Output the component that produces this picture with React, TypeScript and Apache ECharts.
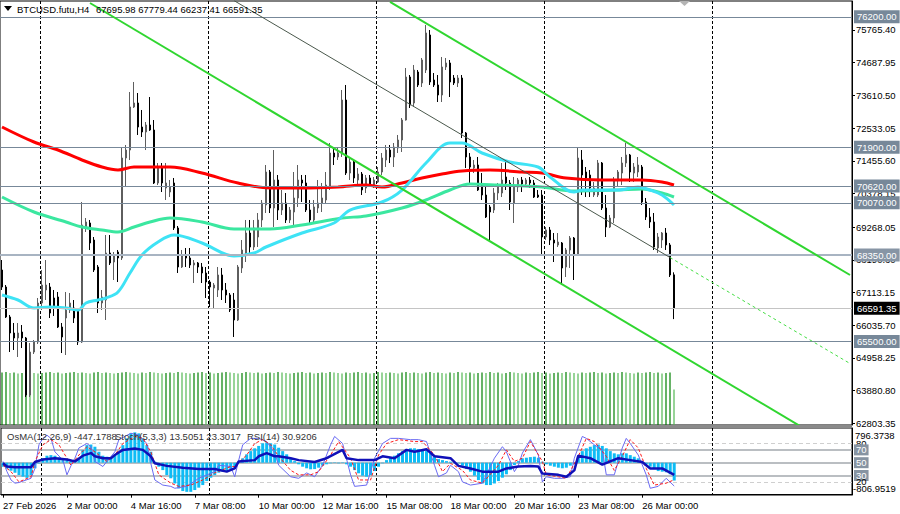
import { useEffect, useRef } from 'react';
import * as echarts from 'echarts';

// ---------- categories (H4 bars, incl. empty right shift) ----------
const SLOT_COUNT = 213;
const START_MS = Date.UTC(2026, 1, 27, 8);
const MONTHS = ['Jan', 'Feb', 'Mar', 'Apr', 'May', 'Jun', 'Jul', 'Aug', 'Sep', 'Oct', 'Nov', 'Dec'];
const categories = Array.from({ length: SLOT_COUNT }, (_, i) => {
  const d = new Date(START_MS + i * 4 * 3600 * 1000);
  return `${d.getUTCDate()} ${MONTHS[d.getUTCMonth()]} ${String(d.getUTCHours()).padStart(2, '0')}:00`;
});
const TICK_INDEX = [0, 16, 32, 48, 64, 80, 96, 112, 128, 144, 160];
const TICK_LABELS = ['27 Feb 2026', '2 Mar 00:00', '4 Mar 16:00', '7 Mar 08:00', '10 Mar 00:00', '12 Mar 16:00', '15 Mar 08:00', '18 Mar 00:00', '20 Mar 16:00', '23 Mar 08:00', '26 Mar 00:00'];
const WEEK_GRID_INDEX = [10, 52, 94, 136, 178];
const PRICE_TICKS = [62803.35, 63880.8, 64958.25, 66035.7, 67113.15, 68190.6, 69268.05, 70378.15, 71455.6, 72533.05, 73610.5, 74687.95, 75765.4];

// ---------- OHLC ----------
const OPEN = [67856,67295,66307,65779,65615,65812,65615,63736,65153,65483,
66768,67197,67295,66933,66966,65977,66274,66537,66603,66537,
65483,69240,69405,68844,67955,66768,66867,68416,68119,68449,
68251,71547,71810,73228,73360,72568,72404,72634,72470,70723,
71250,70558,70426,70723,69240,67955,68350,68251,68021,68087,
67955,67757,67460,67262,67197,67691,67197,67032,66867,66208,
67922,68416,69075,68614,68943,69504,69998,71085,69899,70822,
69833,70064,69504,69767,70229,70822,70723,69833,69504,69899,
70064,70163,70591,71712,71580,71712,73458,71052,71415,70822,
71019,70558,70888,70657,70756,71085,71481,71810,71580,71876,
72140,72799,74216,73360,74381,74019,74447,75601,74118,73953,
73623,74546,74678,74183,74019,74183,72371,71580,71217,71316,
70657,70327,69932,69833,70393,70393,70921,70723,70064,70591,
70822,70690,70822,70723,70327,70327,68943,69174,68844,68680,
68746,67955,68515,68910,68350,71481,71085,70987,70327,70327,
71382,69899,69273,69569,70822,71052,71382,71646,71052,71085,
71250,70097,69602,69438,68581,68844,69075,68680,67695.98];
const CLOSE = [67295,66307,65779,65615,65779,65615,63736,65153,65483,66768,
67361,67361,66438,66603,65977,65648,66537,66768,66274,65483,
69339,69438,68746,67856,66768,66966,68416,68087,68350,68251,
71547,71810,73228,73360,72568,72404,72634,72470,70723,71250,
70723,70723,70591,69240,67955,68350,68251,68021,68087,67955,
67757,67460,67295,67361,67691,67197,67032,66537,66208,67955,
68515,69075,68614,69240,69504,70064,71085,69899,70822,69833,
70064,69504,69833,70229,70822,70723,69833,69504,69932,70064,
70229,70657,71712,71580,71712,73458,71052,71415,70888,71019,
70492,70888,70657,70822,71085,71547,71810,71580,71909,72140,
72799,74216,73294,74447,73953,74777,75667,74052,73953,73623,
74546,74678,74052,74019,74183,72371,71580,71250,71316,70492,
70327,69602,69767,70393,70657,70822,70723,70097,70657,70822,
70690,70822,70723,70261,70261,68943,69174,68844,68746,68778,
67922,68515,68910,68350,71547,70987,70888,70558,70558,71382,
69899,69273,69569,70822,71085,71382,71646,71085,71250,71316,
70097,69602,69438,68614,68943,69075,68680,67691,66591.35];
const LOW = [67197,66274,65153,65219,64988,65285,63670,63670,65087,65417,
66537,66867,66274,66340,65944,65120,65054,66438,66109,65384,
65450,69108,68515,67790,66438,66537,66208,68021,67526,67460,
68185,70591,71481,73195,72305,72239,71810,72440,70690,70657,
70426,70163,70261,69174,67757,67922,67955,67922,67427,67757,
67427,66933,66636,66603,66966,66867,66768,66471,65648,66175,
67757,68119,68416,68515,68614,69273,69734,69734,69273,69504,
69668,69405,69405,69273,69932,70097,69767,69405,69405,69734,
69767,70064,70492,71316,71481,71580,70987,70822,70723,70657,
70327,70393,70591,70558,70723,70987,71250,71382,71250,71712,
71745,72780,73195,73228,73887,73887,74348,73953,73887,73392,
73392,74447,73557,73953,73887,72206,71217,70723,71052,70460,
70163,69569,68778,69734,70163,70261,70492,69833,69405,70426,
70426,70591,70558,70229,70229,68350,68844,68680,68119,68614,
67361,67625,67922,67526,68317,70327,70261,70261,70261,70261,
69833,68943,69240,69405,70591,70657,71250,70756,70756,70921,
69998,69504,69240,68515,68416,68581,68515,67625,66237.41];
const HIGH = [68185,67361,66373,66109,66109,66043,65648,65450,65549,66933,
67856,68185,67427,67197,67131,66109,67131,67098,66867,66603,
70097,69569,69504,68943,68021,67197,69009,69009,68449,68515,
71909,71975,73722,74052,73689,73129,72733,73557,72799,71382,
71382,71382,70822,70888,69306,68515,68581,68581,68185,68119,
68087,67955,67526,67427,67955,67922,67427,67098,67098,68021,
68844,69504,69504,69504,69734,70163,71316,71151,71810,70987,
70492,70393,69932,71085,71316,70987,70987,70163,70163,70822,
70723,71085,72041,71909,71909,73788,73953,71547,71481,71217,
71085,70987,70987,70921,71250,71712,71975,71975,72041,72305,
72865,74513,74282,74612,74447,74843,75930,75765,74348,74282,
74876,74843,74777,74282,74282,74282,72404,71712,71481,71580,
71052,70591,69998,70558,70723,71382,71415,70822,70921,70888,
70921,70888,70921,70822,70492,70492,69273,69273,69075,69075,
68778,68581,68976,68943,71876,71810,71250,71151,70756,71481,
71415,70327,69668,70921,71151,71580,72041,71680,71382,71580,
71316,70229,69899,69734,69075,69108,69240,68746,67779.44];

// ---------- tick volume ----------
const VOLUME = [101,102,100,101,99,100,102,101,100,99,
100,101,102,100,101,99,100,101,102,100,
101,100,99,101,102,100,101,100,99,100,
101,102,101,100,99,101,100,102,101,100,
99,100,101,100,102,101,100,99,100,101,
102,100,101,99,100,101,102,101,100,99,
100,102,101,100,101,99,100,101,100,102,
101,100,99,100,101,102,100,101,99,100,
101,100,102,101,100,99,101,100,101,102,
100,101,99,100,102,101,100,101,100,99,
101,102,100,101,100,99,101,102,100,101,
100,99,101,100,102,101,100,101,99,100,
101,100,102,100,101,99,100,102,101,100,
99,101,100,101,102,100,101,99,100,101,
100,102,101,100,99,101,100,101,102,100,
101,99,100,101,100,102,101,100,99,101,
100,101,102,100,101,99,100,101,68];

// ---------- moving averages (bar index, price) ----------
const MA_RED = [[0,72569],[8,72074],[14,71810],[20,71481],[25,71250],[29,71151],[33,71250],[42,71250],[50,71052],[59,70723],[67,70558],[75,70558],[84,70591],[91,70657],[95,70591],[100,70723],[105,70888],[110,71019],[115,71118],[122,71151],[130,71085],[135,71052],[141,70888],[150,70822],[160,70822],[165,70756],[168,70657]];
const MA_CYAN = [[0,67032],[4,66867],[8,66603],[12,66636],[16,66603],[19,66537],[21,66768],[24,66867],[26,66933],[29,67131],[32,67757],[35,68350],[39,68778],[43,69009],[50,68746],[58,68317],[63,68416],[66,68614],[75,69075],[83,69405],[87,69833],[95,70097],[100,70492],[106,71382],[112,72041],[115,72041],[120,71712],[127,71415],[134,71250],[137,70921],[143,70426],[145,70492],[154,70492],[159,70591],[162,70492],[165,70327],[168,69998]];
const MA_SPRING = [[0,70261],[8,69767],[16,69438],[20,69273],[25,69174],[29,69108],[33,69273],[37,69438],[42,69569],[50,69438],[58,69207],[67,69207],[75,69339],[85,69569],[91,69635],[100,69899],[106,70163],[112,70492],[117,70690],[124,70657],[135,70591],[143,70459],[154,70492],[160,70525],[165,70393],[168,70261]];

// ---------- trend channel anchors (bar index, price) ----------
const TREND_LOWER = [[22,76655],[200,62674]];
const TREND_UPPER = [[97,76695],[212,67691]];
const TREND_MID = [[58,76734],[167,68268]];
const TREND_MID_EXT = [[167,68268],[212,64774]];

// ---------- horizontal levels ----------
const LEVELS = [76200, 71900, 70620, 70070, 65500];
const KEY_LEVEL = 68350;
const LAST_PRICE = 66591.35;

// ---------- indicators ----------
const OSMA = [-100,-150,-200,-250,-310,-350,-380,-310,-140,-20,
110,175,190,175,135,90,65,65,80,120,
315,440,455,400,275,175,150,140,190,235,
440,610,735,760,735,610,440,275,25,-100,
-185,-310,-390,-520,-645,-710,-730,-730,-685,-625,
-560,-460,-375,-310,-250,-225,-210,-160,-125,25,
110,210,290,360,420,485,510,485,455,375,
290,210,110,40,-40,-100,-140,-165,-160,-125,
-75,-40,-15,10,-15,10,-40,-100,-185,-265,
-325,-350,-310,-210,-100,-15,65,125,175,235,
290,340,360,360,340,315,290,235,150,90,
65,40,25,10,-15,-75,-160,-225,-325,-435,
-520,-560,-560,-520,-460,-375,-290,-185,-60,40,
110,125,140,150,125,25,-40,-75,-100,-125,
-140,-125,-75,-40,150,290,360,400,440,455,
420,360,290,235,210,235,235,190,150,110,
10,-40,-100,-160,-210,-225,-240,-290,-447.1788];
const STOCH_MAIN = [[0,52],[1,36],[2,23],[3,18],[4,19],[7,25.6],[8,41],[9,78],[10,88],[11,93],[12,88],[13,67],[15,54],[16,31],[17,45],[18,57],[19,73],[21,80],[22,75],[23,52],[25,44],[26,52],[28,67],[29,86],[32,96],[34,93],[36,80],[37,49],[38,23],[40,15],[42,13],[43,10],[46,13],[49,25.6],[53,36],[54,46],[57,44],[58,28],[59,54],[60,78],[62,88],[64,88],[66,83],[68,65],[69,46],[72,28],[74,25.6],[76,34],[78,28],[80,46],[82,78],[83,91],[85,80],[87,31],[88,13],[91,15],[93,57],[95,80],[97,88],[99,88],[102,86],[104,86],[106,83],[108,46],[109,28],[111,34],[112,46],[114,36],[115,20],[117,15],[120,18],[123,57],[125,75],[126,67],[128,36],[129,46],[130,65],[132,86],[134,62],[135,20],[136,28],[138,25.6],[140,25.6],[142,28],[143,57],[145,91],[146,88],[148,78],[150,70],[151,31],[153,31],[155,73],[156,88],[157,80],[159,62],[161,31],[162,10],[164,13],[166,25.6],[168,13.5051]];
const STOCH_SIGNAL = [[0,46],[2,36],[4,20],[7,28],[8,52],[10,78],[12,86],[14,78],[16,57],[17,46],[19,62],[21,75],[23,67],[26,52],[28,62],[30,80],[33,91],[35,88],[37,67],[39,31],[42,18],[44,13],[47,15],[50,23],[53,34],[57,44],[58,44],[61,62],[63,80],[65,86],[67,78],[69,60],[72,38],[74,31],[77,31],[79,36],[82,62],[84,83],[87,57],[89,23],[92,23],[94,62],[96,80],[99,86],[103,83],[105,83],[108,62],[110,36],[112,49],[115,38],[117,23],[120,18],[124,46],[126,70],[128,52],[130,57],[132,83],[135,52],[136,31],[139,28],[141,25.6],[144,60],[146,88],[148,83],[151,60],[153,38],[155,60],[157,86],[159,73],[161,41],[163,15],[166,18],[168,23.3017]];
const RSI = [[0,49],[1,44],[3,43],[7,43],[8,51],[10,55],[13,57],[16,55],[18,52],[20,61],[22,65],[23,60],[25,57],[27,57],[28,62],[30,70],[33,72],[35,70],[37,60],[38,49],[41,45],[45,42],[49,40],[53,40],[56,36],[58,41],[59,52],[63,54],[64,60],[66,65],[68,60],[69,60],[72,57],[74,54],[78,51],[81,57],[85,70],[86,57],[89,54],[93,54],[95,60],[98,57],[101,70],[103,67],[106,71],[108,60],[112,57],[114,45],[117,41],[120,36],[124,36],[126,41],[129,44],[132,45],[134,44],[135,33],[139,31],[141,28],[143,38],[144,61],[147,57],[150,47],[154,57],[157,54],[160,51],[162,41],[165,41],[168,30.9206]];
const OSC_LEVELS = [80, 70, 50, 30, 20];

const FONT = '"Liberation Sans", Arial, sans-serif';
const SLATE = '#778899';
const VOL_UP = '#008000';
const VOL_DOWN = '#52b852';

function buildOption() {
  const candles = OPEN.map((o, i) => [o, CLOSE[i], LOW[i], HIGH[i]]);
  const showTick = (i: number) => TICK_INDEX.includes(i);
  const showWeek = (i: number) => WEEK_GRID_INDEX.includes(i);
  const boxLabel = (bg: string, fg: string) => ({
    show: true,
    position: 'end',
    distance: 2,
    formatter: (p: any) => Number(p.value).toFixed(2),
    backgroundColor: bg,
    color: fg,
    fontSize: 9.5,
    fontFamily: FONT,
    padding: [2, 3, 1, 3],
  });

  const priceLevels: any[] = LEVELS.map((v) => ({
    yAxis: v,
    lineStyle: { color: SLATE, width: 1, type: 'solid' },
    label: boxLabel(SLATE, '#ffffff'),
  }));
  priceLevels.push({
    yAxis: KEY_LEVEL,
    lineStyle: { color: '#a8b4c2', width: 2, type: 'solid' },
    label: boxLabel('#8795a5', '#ffffff'),
  });
  priceLevels.push({
    yAxis: LAST_PRICE,
    lineStyle: { color: '#c4c4c4', width: 1, type: 'solid' },
    label: boxLabel('#000000', '#ffffff'),
  });

  const oscLevels = OSC_LEVELS.map((v) => {
    const boxed = v === 70 || v === 50 || v === 30;
    return {
      yAxis: v,
      lineStyle: boxed
        ? { color: '#a3a8ae', width: 1.5, type: 'solid' }
        : { color: '#cfcfcf', width: 1, type: [4, 3] },
      label: {
        show: true,
        position: 'end',
        distance: 2,
        formatter: String(v),
        fontSize: 9.5,
        fontFamily: FONT,
        color: boxed ? '#ffffff' : '#000000',
        backgroundColor: boxed ? '#8794a2' : 'transparent',
        padding: [1, 2, 0, 2],
      },
    };
  });

  const lineBase = {
    type: 'line',
    showSymbol: false,
    symbol: 'none',
    silent: true,
    animation: false,
  };

  return {
    animation: false,
    backgroundColor: '#ffffff',
    textStyle: { fontFamily: FONT },
    grid: [
      { left: 0, top: 1, width: 852, height: 424, show: true, borderColor: '#000', borderWidth: 1, backgroundColor: '#fff' },
      { left: 0, top: 428, width: 852, height: 67, show: true, borderColor: '#000', borderWidth: 1, backgroundColor: '#fff' },
    ],
    xAxis: [
      {
        type: 'category', gridIndex: 0, data: categories, boundaryGap: true,
        axisLine: { show: false }, axisTick: { show: false }, axisLabel: { show: false },
        splitLine: { show: true, interval: showWeek, lineStyle: { color: '#000', width: 1, type: [3, 2] } },
      },
      {
        type: 'category', gridIndex: 1, data: categories, boundaryGap: true,
        axisLine: { show: true, lineStyle: { color: '#000', width: 1 } },
        axisTick: { show: true, interval: showTick, alignWithLabel: true, length: 3, lineStyle: { color: '#000' } },
        axisLabel: {
          show: true, interval: showTick, align: 'left', margin: 5, fontSize: 9.5, color: '#000', fontFamily: FONT,
          formatter: (_v: string, idx: number) => {
            const j = TICK_INDEX.indexOf(idx);
            return j >= 0 ? TICK_LABELS[j] : '';
          },
        },
        splitLine: { show: true, interval: showWeek, lineStyle: { color: '#000', width: 1, type: [3, 2] } },
      },
    ],
    yAxis: [
      {
        type: 'value', gridIndex: 0, position: 'right', min: 62747.4, max: 76721.1, scale: true,
        axisLine: { show: true, lineStyle: { color: '#000', width: 1 } },
        axisTick: { show: true, customValues: PRICE_TICKS, length: 3, lineStyle: { color: '#000' } },
        axisLabel: {
          show: true, customValues: PRICE_TICKS, margin: 4, fontSize: 9.5, color: '#000', fontFamily: FONT,
          formatter: (v: number) => v.toFixed(2),
        },
        splitLine: { show: false },
      },
      { type: 'value', gridIndex: 0, min: 0, max: 815, show: false, splitLine: { show: false } },
      {
        type: 'value', gridIndex: 1, position: 'right', min: -0.5, max: 104.2,
        axisLine: { show: true, lineStyle: { color: '#000', width: 1 } },
        axisTick: { show: false }, axisLabel: { show: false }, splitLine: { show: false },
      },
      { type: 'value', gridIndex: 1, min: -809, max: 869, show: false, splitLine: { show: false } },
    ],
    series: [
      {
        name: 'Volume', type: 'bar', xAxisIndex: 0, yAxisIndex: 1, data: VOLUME,
        barWidth: 1.2, silent: true, z: 1,
        itemStyle: {
          color: (p: any) => (p.dataIndex === 0 || VOLUME[p.dataIndex] >= VOLUME[p.dataIndex - 1] ? VOL_UP : VOL_DOWN),
        },
      },
      {
        name: 'BTCUSD', type: 'candlestick', xAxisIndex: 0, yAxisIndex: 0, data: candles,
        barWidth: 2, z: 3, silent: true,
        itemStyle: { color: '#ffffff', color0: '#000000', borderColor: '#5e5e5e', borderColor0: '#000000', borderWidth: 1 },
        markLine: { silent: true, symbol: ['none', 'none'], animation: false, data: priceLevels },
      },
      { ...lineBase, name: 'MA slow', xAxisIndex: 0, yAxisIndex: 0, data: MA_RED, smooth: 0.35, z: 4, lineStyle: { color: '#ff0000', width: 3 } },
      { ...lineBase, name: 'MA mid', xAxisIndex: 0, yAxisIndex: 0, data: MA_SPRING, smooth: 0.35, z: 4, lineStyle: { color: '#3be7a0', width: 3 } },
      { ...lineBase, name: 'MA fast', xAxisIndex: 0, yAxisIndex: 0, data: MA_CYAN, smooth: 0.35, z: 4, lineStyle: { color: '#3ee3f5', width: 3 } },
      { ...lineBase, name: 'Channel lower', xAxisIndex: 0, yAxisIndex: 0, data: TREND_LOWER, z: 5, lineStyle: { color: '#30d630', width: 2 } },
      { ...lineBase, name: 'Channel upper', xAxisIndex: 0, yAxisIndex: 0, data: TREND_UPPER, z: 5, lineStyle: { color: '#30d630', width: 2 } },
      { ...lineBase, name: 'Channel mid', xAxisIndex: 0, yAxisIndex: 0, data: TREND_MID, z: 5, lineStyle: { color: '#4a584c', width: 1 } },
      { ...lineBase, name: 'Channel mid ext', xAxisIndex: 0, yAxisIndex: 0, data: TREND_MID_EXT, z: 5, lineStyle: { color: '#44dd44', width: 1, type: [3, 3] } },
      {
        name: 'OsMA', type: 'bar', xAxisIndex: 1, yAxisIndex: 3, data: OSMA, barWidth: 3, silent: true, z: 2,
        itemStyle: { color: '#0ebcf5' },
      },
      {
        ...lineBase, name: 'Stoch main', xAxisIndex: 1, yAxisIndex: 2, data: STOCH_MAIN, z: 4,
        lineStyle: { color: '#6a6af2', width: 1 },
        markLine: { silent: true, symbol: ['none', 'none'], animation: false, data: oscLevels, z: 1 },
      },
      { ...lineBase, name: 'Stoch signal', xAxisIndex: 1, yAxisIndex: 2, data: STOCH_SIGNAL, z: 4, lineStyle: { color: '#ff1a1a', width: 1, type: [3, 2] } },
      { ...lineBase, name: 'RSI', xAxisIndex: 1, yAxisIndex: 2, data: RSI, z: 5, lineStyle: { color: '#1010b8', width: 2.5 } },
    ],
    graphic: {
      elements: [
        { type: 'rect', z: 50, shape: { x: 0, y: 425, width: 852, height: 3 }, style: { fill: '#8a8a8a' } },
        { type: 'polygon', z: 60, shape: { points: [[679, 1], [690, 1], [684.5, 6]] }, style: { fill: '#b4b4b4' } },
        { type: 'polygon', z: 100, shape: { points: [[4, 6], [12, 6], [8, 11]] }, style: { fill: '#000' } },
        { type: 'text', z: 100, x: 17, y: 9, style: { text: 'BTCUSD.futu,H4', font: `9.5px ${FONT}`, fill: '#000', verticalAlign: 'middle' } },
        { type: 'text', z: 100, x: 96, y: 9, style: { text: '67695.98 67779.44 66237.41 66591.35', font: `9.5px ${FONT}`, fill: '#000', verticalAlign: 'middle' } },
        { type: 'text', z: 100, x: 7, y: 436, style: { text: 'OsMA(12,26,9) -447.1788', font: `9.5px ${FONT}`, fill: '#333', verticalAlign: 'middle' } },
        { type: 'text', z: 100, x: 115, y: 436, style: { text: 'Stoch(5,3,3) 13.5051 23.3017', font: `9.5px ${FONT}`, fill: '#333', verticalAlign: 'middle' } },
        { type: 'text', z: 100, x: 247, y: 436, style: { text: 'RSI(14) 30.9206', font: `9.5px ${FONT}`, fill: '#333', verticalAlign: 'middle' } },
        { type: 'text', z: 100, x: 855, y: 435, style: { text: '796.3738', font: `9.5px ${FONT}`, fill: '#000', verticalAlign: 'middle' } },
        { type: 'text', z: 100, x: 853, y: 488, style: { text: '-806.9519', font: `9.5px ${FONT}`, fill: '#000', verticalAlign: 'middle' } },
      ],
    },
  };
}

export default function App() {
  const ref = useRef<HTMLDivElement>(null);
  useEffect(() => {
    if (!ref.current) return;
    const chart = echarts.init(ref.current, null, { renderer: 'svg' });
    chart.setOption(buildOption() as any);
    return () => chart.dispose();
  }, []);
  return (
    <div
      ref={ref}
      style={{ position: 'fixed', left: 0, top: 0, width: 900, height: 514, background: '#ffffff' }}
    />
  );
}
